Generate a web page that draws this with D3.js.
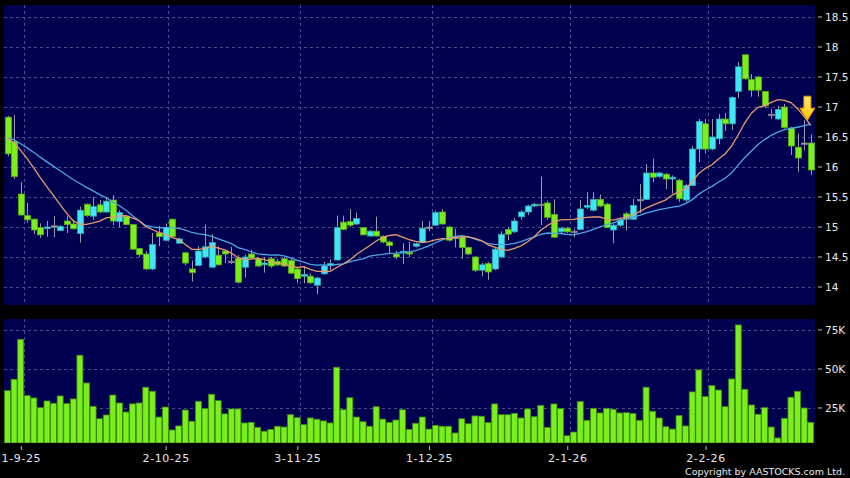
<!DOCTYPE html>
<html>
<head>
<meta charset="utf-8">
<script src="https://cdn.jsdelivr.net/npm/d3@7"></script>
<style>
  body { margin: 0; background: #000; }
  svg { display: block; }
  text { font-family: "DejaVu Sans", sans-serif; fill: #e8e8e8; }
</style>
</head>
<body>
<svg width="850" height="478"></svg>
<script>
// --- data (daily candles, 123 sessions) ---
let opens = [16.83,16.42,15.55,15.19,15.13,14.99,14.98,15.02,14.94,15.10,15.05,14.89,15.38,15.18,15.37,15.25,15.45,15.09,15.18,15.04,
  14.64,14.55,14.30,14.90,14.78,15.13,14.73,14.57,14.30,14.36,14.50,14.33,14.53,14.60,14.43,14.48,14.33,14.55,14.47,14.37,
  14.47,14.43,14.47,14.44,14.30,14.18,14.18,14.03,14.22,14.36,14.45,15.08,15.09,15.05,14.99,14.85,14.93,14.84,14.75,14.55,
  14.57,14.58,14.68,14.74,15.00,15.03,15.25,15.00,14.83,14.83,14.66,14.50,14.28,14.39,14.30,14.50,14.96,14.92,15.17,15.25,
  15.35,15.38,15.40,15.21,14.92,14.98,14.93,14.96,15.33,15.28,15.46,15.38,14.95,15.03,15.22,15.13,15.46,15.46,15.90,15.84,
  15.88,15.80,15.78,15.45,15.69,16.30,16.72,16.30,16.47,16.80,16.72,17.26,17.87,17.46,17.50,17.26,16.88,16.80,17.00,16.65,
  16.33,16.40,16.40];
let highs = [16.85,16.87,15.75,15.40,15.14,15.06,15.10,15.18,15.03,15.18,15.12,15.34,15.39,15.50,15.45,15.50,15.53,15.28,15.20,15.05,
  14.65,14.60,14.90,15.02,15.06,15.14,14.82,14.58,14.44,14.68,15.04,14.88,14.68,14.62,14.67,14.53,14.54,14.62,14.50,14.50,
  14.50,14.47,14.50,14.47,14.33,14.34,14.22,14.17,14.42,14.46,15.19,15.19,15.30,15.24,15.00,14.95,15.17,14.86,14.77,14.60,
  14.73,14.75,14.74,15.10,15.10,15.27,15.30,15.02,14.97,14.85,14.67,14.52,14.40,14.42,14.65,14.93,15.00,15.15,15.28,15.37,
  15.40,15.84,15.44,15.46,15.00,15.00,14.97,15.45,15.58,15.58,15.54,15.40,15.06,15.15,15.25,15.47,15.72,16.05,16.14,15.92,
  15.90,15.86,15.80,15.72,16.35,16.80,16.80,16.80,16.88,16.90,17.18,17.75,17.88,17.55,17.52,17.27,16.97,17.02,17.05,16.67,
  16.56,16.78,16.54];
let lows = [16.18,15.80,15.19,15.07,14.88,14.82,14.84,14.83,14.93,14.90,14.96,14.74,15.17,15.12,15.23,15.24,15.03,15.00,15.03,14.62,
  14.50,14.28,14.28,14.68,14.76,14.83,14.72,14.36,14.09,14.35,14.48,14.32,14.36,14.40,14.38,14.06,14.16,14.47,14.33,14.24,
  14.32,14.35,14.33,14.22,14.07,14.06,14.05,13.88,14.20,14.28,14.44,14.95,15.00,15.03,14.86,14.84,14.84,14.73,14.56,14.47,
  14.38,14.50,14.66,14.73,14.93,15.02,15.04,14.76,14.66,14.47,14.53,14.25,14.18,14.12,14.28,14.48,14.78,14.90,15.12,15.20,
  15.33,15.03,15.12,14.82,14.90,14.90,14.83,14.95,15.30,15.26,15.33,14.98,14.73,15.00,14.94,15.12,15.23,15.45,15.74,15.82,
  15.63,15.56,15.42,15.42,15.68,16.08,16.23,16.28,16.38,16.60,16.62,17.15,17.46,17.17,17.17,16.98,16.80,16.78,16.64,16.20,
  15.92,16.28,15.87];
let closes = [16.22,15.84,15.20,15.12,14.95,14.87,15.00,15.02,15.01,15.04,14.97,15.28,15.19,15.34,15.25,15.43,15.10,15.24,15.04,14.63,
  14.54,14.30,14.71,14.84,14.99,14.84,14.80,14.40,14.24,14.60,14.67,14.74,14.37,14.55,14.43,14.08,14.50,14.48,14.35,14.40,
  14.35,14.37,14.35,14.23,14.14,14.21,14.07,14.15,14.35,14.39,14.99,14.96,15.03,15.14,14.87,14.93,14.85,14.75,14.69,14.50,
  14.59,14.55,14.72,14.98,15.00,15.24,15.05,14.78,14.83,14.66,14.55,14.28,14.37,14.25,14.63,14.88,14.88,15.10,15.25,15.35,
  15.38,15.38,15.16,14.83,14.98,14.92,14.93,15.30,15.36,15.46,15.35,14.99,15.03,15.12,15.13,15.36,15.46,15.90,15.83,15.90,
  15.80,15.83,15.47,15.69,16.30,16.76,16.30,16.50,16.80,16.72,17.16,17.67,17.47,17.28,17.28,17.02,16.88,16.96,16.66,16.35,
  16.15,16.40,15.95];
// volume in thousands of shares
let volumes = [36.1,43.4,69,32.9,31.4,25.2,29.5,28,32.7,27.8,30.8,58.8,41,26.1,18.1,20.5,33.3,28.2,22.4,27.6,
  28.2,38.3,35.7,19.2,25.6,10.9,13.5,23.7,16.5,29.3,24.6,33.8,29.7,21.2,24.4,24.4,15.4,15.8,12.6,10.1,
  11.3,13.3,12.8,20.7,18.8,14.3,18.6,17.8,16.7,15.4,51.1,23.9,31.6,19.2,16.2,13.3,25.8,17.9,15.8,17.3,
  23.9,11.3,15.2,19.2,11.5,13.9,13.3,13.3,9.0,18.1,14.9,19.9,19.7,15.6,27.6,20.7,20.7,21.6,18.6,24.4,
  19.4,26.7,12.6,27.6,24.6,7.2,9.6,29.1,17.1,24.8,21.8,24.8,24.2,21.8,22,21.4,17.1,38.3,22.9,18.6,
  13,11.5,20.1,13.5,35.3,49.4,32.3,39.3,36.5,25.8,43.6,78.2,37,26.9,21,25.2,12.8,5.8,18.4,31.9,
  35.7,25,15.8];
// closes before the visible window (estimated) so the moving averages start where the chart's do
let closesBefore = [16.5,16.5,16.5,16.5,16.5,16.5,16.5,16.5,16.5,16.5,16.5,16.5,16.5,16.5,16.5,16.5,16.5,16.5,16.5];

let dateLabels = ["1-9-25", "2-10-25", "3-11-25", "1-12-25", "2-1-26", "2-2-26"];
let dateIndex = [2, 24, 44, 64, 85, 106];
let priceTicks = [14, 14.5, 15, 15.5, 16, 16.5, 17, 17.5, 18, 18.5];
let volumeTicks = [25, 50, 75];

const svg = d3.select("svg");
const left = 4, right = 815;
const priceTop = 5, priceBottom = 305;
const volTop = 319, volBottom = 443;

let x = d3.scaleLinear().domain([0, closes.length - 1]).range([7.5, 810.7]);
let y = d3.scaleLinear().domain([13.7, 18.7]).range([priceBottom, priceTop]);
let yv = d3.scaleLinear().domain([0, 82]).range([447, volTop]);

let movingAvg = function (n) {
    let all = closesBefore.concat(closes);
    let off = closesBefore.length;
    return closes.map((c, i) => d3.mean(all.slice(off + i - n + 1, off + i + 1)));
};
let ma10 = movingAvg(10), ma20 = movingAvg(20);

const gridColor = "#4c4c8a";
const upColor = "#40e6f4", downColor = "#7bef1c", flatColor = "#a8a8b0";

// panels
svg.append("rect").attr("x", left).attr("y", priceTop).attr("width", right - left).attr("height", priceBottom - priceTop).attr("fill", "#000050");
svg.append("rect").attr("x", left).attr("y", volTop).attr("width", right - left).attr("height", volBottom - volTop).attr("fill", "#000050");

svg.append("defs").append("clipPath").attr("id", "clipVol")
    .append("rect").attr("x", left).attr("y", volTop).attr("width", right - left).attr("height", volBottom - volTop);

// horizontal grid
svg.append("g").selectAll("line").data(priceTicks).join("line")
    .attr("x1", left).attr("x2", right)
    .attr("y1", d => Math.round(y(d)) + 0.5).attr("y2", d => Math.round(y(d)) + 0.5)
    .attr("stroke", gridColor).attr("stroke-dasharray", "3,3");
svg.append("g").selectAll("line").data(volumeTicks).join("line")
    .attr("x1", left).attr("x2", right)
    .attr("y1", d => Math.round(yv(d)) + 0.5).attr("y2", d => Math.round(yv(d)) + 0.5)
    .attr("stroke", gridColor).attr("stroke-dasharray", "3,3");

// vertical grid, just after each labelled session
let vgrid = svg.append("g");
[[priceTop, priceBottom], [volTop, volBottom]].forEach(p => {
    vgrid.append("g").selectAll("line").data(dateIndex).join("line")
        .attr("x1", d => Math.round(x(d + 0.45)) + 0.5).attr("x2", d => Math.round(x(d + 0.45)) + 0.5)
        .attr("y1", p[0]).attr("y2", p[1])
        .attr("stroke", gridColor).attr("stroke-dasharray", "3,3");
});

// right axes
let priceAxis = svg.append("g").selectAll("g").data(priceTicks).join("g")
    .attr("transform", d => "translate(0," + y(d) + ")");
priceAxis.append("line").attr("x1", 818).attr("x2", 822).attr("stroke", "#bbb");
priceAxis.append("text").attr("x", 825).attr("dy", "0.35em").style("font-size", "10.5px").text(d => d);

let volAxis = svg.append("g").selectAll("g").data(volumeTicks).join("g")
    .attr("transform", d => "translate(0," + yv(d) + ")");
volAxis.append("line").attr("x1", 818).attr("x2", 822).attr("stroke", "#bbb");
volAxis.append("text").attr("x", 825).attr("dy", "0.35em").style("font-size", "10.5px").text(d => d + "K");

// date axis
let dateAxis = svg.append("g").selectAll("g").data(dateIndex).join("g")
    .attr("transform", (d, i) => "translate(" + x(d + 0.1) + ",0)");
dateAxis.append("line").attr("y1", 446).attr("y2", 450).attr("stroke", "#bbb");
dateAxis.append("text").attr("y", 462).attr("text-anchor", "middle").style("font-size", "11px")
    .style("letter-spacing", "0.6px").text((d, i) => dateLabels[i]);

// candles
let idx = d3.range(closes.length);
let colorOf = i => closes[i] > opens[i] ? upColor : (closes[i] < opens[i] ? downColor : flatColor);
let candles = svg.append("g");
candles.selectAll("line.wick").data(idx).join("line").attr("class", "wick")
    .attr("x1", i => Math.round(x(i)) + 0.5).attr("x2", i => Math.round(x(i)) + 0.5)
    .attr("y1", i => y(highs[i])).attr("y2", i => y(lows[i]))
    .attr("stroke", "#9a9aa8");
candles.selectAll("rect").data(idx).join("rect")
    .attr("x", i => Math.round(x(i)) - 2.5)
    .attr("y", i => y(Math.max(opens[i], closes[i])))
    .attr("width", 6)
    .attr("height", i => Math.max(1.5, Math.abs(y(opens[i]) - y(closes[i]))))
    .attr("fill", colorOf)
    .attr("stroke", i => d3.color(colorOf(i)).darker(0.9))
    .attr("stroke-width", 0.8);

// moving averages
let line = d3.line().x((d, i) => x(i)).y(d => y(d));
svg.append("path").datum(ma20).attr("d", line).attr("fill", "none").attr("stroke", "#4aa6e4").attr("stroke-width", 1.3);
svg.append("path").datum(ma10).attr("d", line).attr("fill", "none").attr("stroke", "#e89a6c").attr("stroke-width", 1.3);

// volume bars
svg.append("g").attr("clip-path", "url(#clipVol)").selectAll("rect").data(volumes).join("rect")
    .attr("x", (d, i) => x(i) - 3)
    .attr("y", d => yv(d))
    .attr("width", 6)
    .attr("height", d => volBottom - yv(d))
    .attr("fill", downColor)
    .attr("stroke", "#3d8a12")
    .attr("stroke-width", 0.8);

// signal arrow on the latest sessions
let grad = svg.select("defs").append("linearGradient").attr("id", "arrowGrad")
    .attr("x1", 0).attr("y1", 0).attr("x2", 0).attr("y2", 1);
grad.append("stop").attr("offset", "0%").attr("stop-color", "#ffee70");
grad.append("stop").attr("offset", "100%").attr("stop-color", "#ffc000");
let last = closes.length - 1;
let ax = x(last - 0.5), ay = y(Math.max(highs[last], highs[last - 1]));
svg.append("path")
    .attr("d", d3.line()([[ax - 3.5, ay - 24], [ax + 3.5, ay - 24], [ax + 3.5, ay - 12], [ax + 7.5, ay - 12],
        [ax, ay], [ax - 7.5, ay - 12], [ax - 3.5, ay - 12]]) + "Z")
    .attr("fill", "url(#arrowGrad)").attr("stroke", "#e89000").attr("stroke-width", 1);

svg.append("text").attr("x", 845).attr("y", 475).attr("text-anchor", "end")
    .style("font-size", "9.5px").text("Copyright by AASTOCKS.com Ltd.");
</script>
</body>
</html>
